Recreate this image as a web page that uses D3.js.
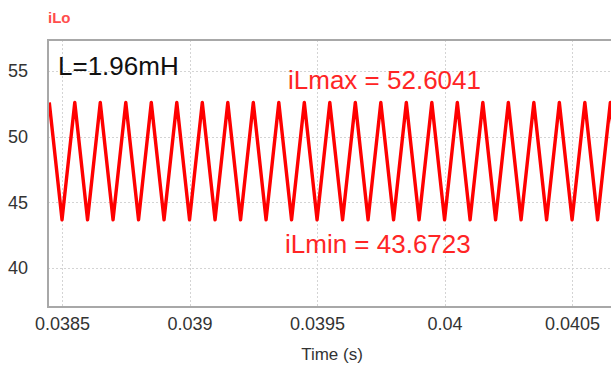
<!DOCTYPE html>
<html>
<head>
<meta charset="utf-8">
<script src="https://cdn.jsdelivr.net/npm/d3@7"></script>
<style>
  body { margin:0; background:#fff; }
  svg { display:block; font-family:"Liberation Sans", Arial, sans-serif; }
</style>
</head>
<body>
<svg id="chart" width="611" height="367"></svg>
<script>
// triangle ripple vertices (s, A)
const times = [0.03845, 0.0385, 0.03855, 0.0386, 0.03865, 0.0387, 0.03875, 0.0388, 0.03885, 0.0389,
  0.03895, 0.039, 0.03905, 0.0391, 0.03915, 0.0392, 0.03925, 0.0393, 0.03935, 0.0394,
  0.03945, 0.0395, 0.03955, 0.0396, 0.03965, 0.0397, 0.03975, 0.0398, 0.03985, 0.0399,
  0.03995, 0.04, 0.04005, 0.0401, 0.04015, 0.0402, 0.04025, 0.0403, 0.04035, 0.0404,
  0.04045, 0.0405, 0.04055, 0.0406, 0.04065, 0.0407];
const iLo = [52.6, 43.67, 52.6, 43.67, 52.6, 43.67, 52.6, 43.67, 52.6, 43.67,
  52.6, 43.67, 52.6, 43.67, 52.6, 43.67, 52.6, 43.67, 52.6, 43.67,
  52.6, 43.67, 52.6, 43.67, 52.6, 43.67, 52.6, 43.67, 52.6, 43.67,
  52.6, 43.67, 52.6, 43.67, 52.6, 43.67, 52.6, 43.67, 52.6, 43.67,
  52.6, 43.67, 52.6, 43.67, 52.6, 43.67];
const xTicks = [0.0385, 0.039, 0.0395, 0.04, 0.0405];
const xTickLabels = ["0.0385", "0.039", "0.0395", "0.04", "0.0405"];
const yTicks = [40, 45, 50, 55];

const svg = d3.select("#chart");
const L = 48, T = 40, B = 307, R = 618;

const x = d3.scaleLinear().domain([0.038445, 0.04068]).range([L, R]);
const y = d3.scaleLinear().domain([37.03, 57.36]).range([B, T]);

// grid
const grid = svg.append("g").attr("stroke", "#d4d4d4").attr("stroke-width", 1).attr("stroke-dasharray", "2,2");
grid.selectAll("line.v").data(xTicks).enter().append("line")
  .attr("x1", d => Math.round(x(d)) + 0.5).attr("x2", d => Math.round(x(d)) + 0.5)
  .attr("y1", T).attr("y2", B);
grid.selectAll("line.h").data(yTicks).enter().append("line")
  .attr("x1", L).attr("x2", R)
  .attr("y1", d => Math.round(y(d)) + 0.5).attr("y2", d => Math.round(y(d)) + 0.5);

// axes
const xAxis = svg.append("g").attr("transform", `translate(0,${B})`)
  .call(d3.axisBottom(x).tickValues(xTicks).tickSize(0).tickPadding(10)
    .tickFormat((d, i) => xTickLabels[i]));
xAxis.select(".domain").remove();
xAxis.selectAll("text").attr("font-size", 18).attr("fill", "#333").attr("font-family", null);

const yAxis = svg.append("g").attr("transform", `translate(28,0)`)
  .call(d3.axisLeft(y).tickValues(yTicks).tickSize(0).tickPadding(0));
yAxis.select(".domain").remove();
yAxis.selectAll("text").attr("font-size", 18).attr("fill", "#333").attr("font-family", null);

// frame
svg.append("rect").attr("x", L).attr("y", T).attr("width", R - L).attr("height", B - T)
  .attr("fill", "none").attr("stroke", "#a8a8a8").attr("stroke-width", 2);

// waveform
svg.append("clipPath").attr("id", "clip").append("rect")
  .attr("x", L + 1).attr("y", T + 1).attr("width", R - L - 2).attr("height", B - T - 2);
svg.append("path")
  .datum(times.map((t, i) => [t, iLo[i]]))
  .attr("clip-path", "url(#clip)")
  .attr("fill", "none").attr("stroke", "#ff0000").attr("stroke-width", 3.4)
  .attr("stroke-linejoin", "round")
  .attr("d", d3.line().x(d => x(d[0])).y(d => y(d[1])));

// labels
svg.append("text").attr("x", 48).attr("y", 23).attr("font-size", 15).attr("font-weight", "bold")
  .attr("fill", "#ff4d4d").text("iLo");
svg.append("text").attr("x", 58).attr("y", 75).attr("font-size", 26).attr("fill", "#111").text("L=1.96mH");
svg.append("text").attr("x", 288).attr("y", 89).attr("font-size", 26).attr("fill", "#ff2525").text("iLmax = 52.6041");
svg.append("text").attr("x", 285).attr("y", 253).attr("font-size", 26).attr("fill", "#ff2525").text("iLmin = 43.6723");
svg.append("text").attr("x", 332).attr("y", 360).attr("text-anchor", "middle").attr("font-size", 17)
  .attr("fill", "#333").text("Time (s)");
</script>
</body>
</html>
